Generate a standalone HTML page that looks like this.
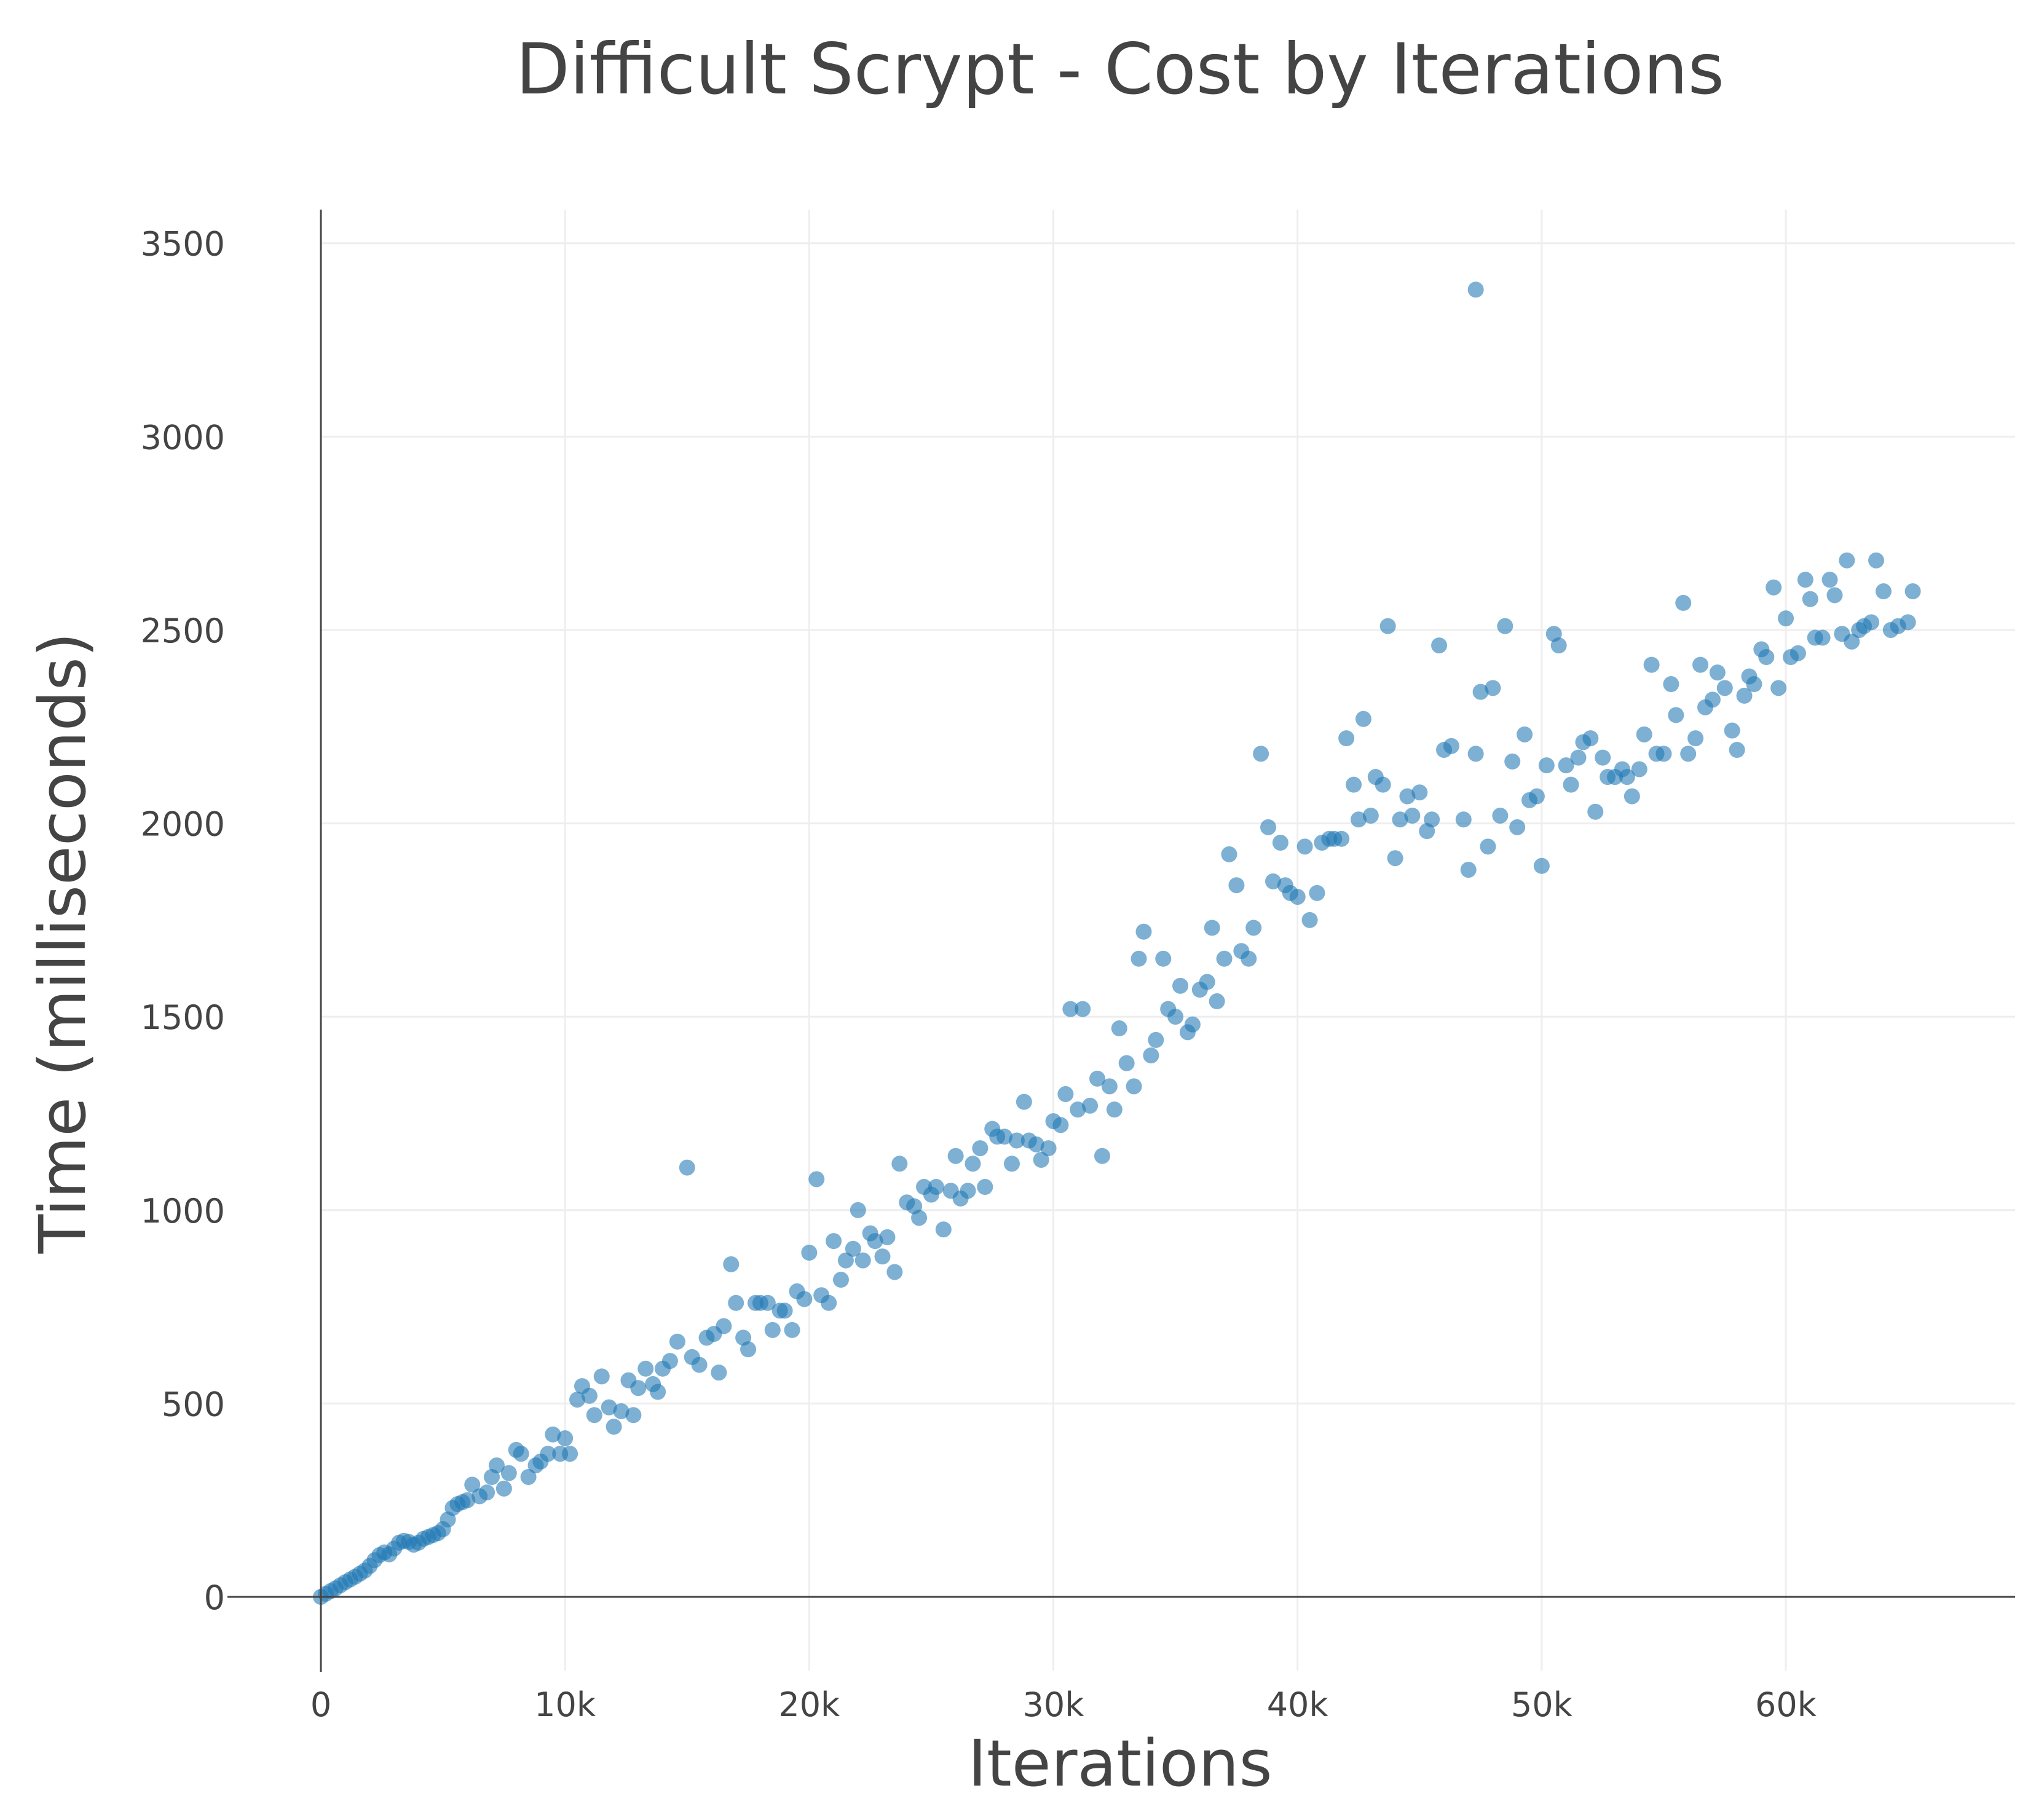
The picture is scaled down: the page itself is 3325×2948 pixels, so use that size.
<!DOCTYPE html>
<html><head><meta charset="utf-8"><style>
html,body{margin:0;padding:0;background:#fff;}
svg{display:block;font-family:"DejaVu Sans","Liberation Sans",sans-serif;}
</style></head><body>
<svg id="chart" width="3325" height="2948" viewBox="0 0 3325 2948" xmlns="http://www.w3.org/2000/svg">
<text x="1822" y="152" font-size="114" fill="#444" text-anchor="middle">Difficult Scrypt - Cost by Iterations</text>
<g id="grid"></g><g id="ticks"></g><g id="points"></g><g id="axes"></g>
<text x="1822" y="2905" font-size="104" fill="#444" text-anchor="middle">Iterations</text>
<text transform="translate(138,1534) rotate(-90)" font-size="104" fill="#444" text-anchor="middle">Time (milliseconds)</text>
</svg>
<script>
const xTicks=[0,10000,20000,30000,40000,50000,60000];
const xTickLabels=["0","10k","20k","30k","40k","50k","60k"];
const yTicks=[0,500,1000,1500,2000,2500,3000,3500];
const iterations=[0,200,400,600,800,1000,1200,1400,1600,1800,2000,2200,2400,2600,2800,3000,3200,3400,3600,3800,4000,4200,4400,4600,4800,5000,5200,5400,5600,5800,6000,6200,6500,6800,7000,7200,7500,7700,8000,8200,8500,8800,9000,9300,9500,9800,10000,10200,10500,10700,11000,11200,11500,11800,12000,12300,12600,12800,13000,13300,13600,13800,14000,14300,14600,15000,15200,15500,15800,16100,16300,16500,16800,17000,17300,17500,17800,18000,18300,18500,18800,19000,19300,19500,19800,20000,20300,20500,20800,21000,21300,21500,21800,22000,22200,22500,22700,23000,23200,23500,23700,24000,24300,24500,24700,25000,25200,25500,25800,26000,26200,26500,26700,27000,27200,27500,27700,28000,28300,28500,28800,29000,29300,29500,29800,30000,30300,30500,30700,31000,31200,31500,31800,32000,32300,32500,32700,33000,33300,33500,33700,34000,34200,34500,34700,35000,35200,35500,35700,36000,36300,36500,36700,37000,37200,37500,37700,38000,38200,38500,38800,39000,39300,39500,39700,40000,40300,40500,40800,41000,41300,41500,41800,42000,42300,42500,42700,43000,43200,43500,43700,44000,44200,44500,44700,45000,45300,45500,45800,46000,46300,47300,46800,47000,47300,47500,47800,48000,48300,48500,48800,49000,49300,49500,49800,50000,50200,50500,50700,51000,51200,51500,51700,52000,52200,52500,52700,53000,53300,53500,53700,54000,54200,54500,54700,55000,55300,55500,55800,56000,56300,56500,56700,57000,57200,57500,57800,58000,58300,58500,58700,59000,59200,59500,59700,60000,60200,60500,60800,61000,61200,61500,61800,62000,62300,62500,62700,63000,63200,63500,63700,64000,64300,64600,65000,65200];
const timesMs=[0,8,15,22,30,38,45,52,60,68,80,95,108,115,110,125,140,145,142,135,140,150,155,160,165,175,200,230,240,245,250,290,260,270,310,340,280,320,380,370,310,340,350,370,420,370,410,370,510,545,520,470,570,490,440,480,560,470,540,590,550,530,590,610,660,1110,620,600,670,680,580,700,860,760,670,640,760,760,760,690,740,740,690,790,770,890,1080,780,760,920,820,870,900,1000,870,940,920,880,930,840,1120,1020,1010,980,1060,1040,1060,950,1050,1140,1030,1050,1120,1160,1060,1210,1190,1190,1120,1180,1280,1180,1170,1130,1160,1230,1220,1300,1520,1260,1520,1270,1340,1140,1320,1260,1470,1380,1320,1650,1720,1400,1440,1650,1520,1500,1580,1460,1480,1570,1590,1730,1540,1650,1920,1840,1670,1650,1730,2180,1990,1850,1950,1840,1820,1810,1940,1750,1820,1950,1960,1960,1960,2220,2100,2010,2270,2020,2120,2100,2510,1910,2010,2070,2020,2080,1980,2010,2460,2190,2200,3380,2010,1880,2180,2340,1940,2350,2020,2510,2160,1990,2230,2060,2070,1890,2150,2490,2460,2150,2100,2170,2210,2220,2030,2170,2120,2120,2140,2120,2070,2140,2230,2410,2180,2180,2360,2280,2570,2180,2220,2410,2300,2320,2390,2350,2240,2190,2330,2380,2360,2450,2430,2610,2350,2530,2430,2440,2630,2580,2480,2480,2630,2590,2490,2680,2470,2500,2510,2520,2680,2600,2500,2510,2520,2600];
const NS="http://www.w3.org/2000/svg";
const L=522,R=3278,T=341,B=2598;
const xMax=69390,yMax=3587;
function sx(v){return L+v/xMax*(R-L);}
function sy(v){return B-v/yMax*(B-T);}
function mk(tag,attrs,parent){const e=document.createElementNS(NS,tag);for(const k in attrs)e.setAttribute(k,attrs[k]);parent.appendChild(e);return e;}
const grid=document.getElementById('grid'),ticks=document.getElementById('ticks'),pts=document.getElementById('points'),axes=document.getElementById('axes');
xTicks.forEach((v,i)=>{
  if(v>0){const g=mk('line',{x1:sx(v),x2:sx(v),y1:T,y2:B+120,stroke:'#eee','stroke-width':3},grid);
  
  }
  const t=mk('text',{x:sx(v),y:2792,'font-size':54,fill:'#444','text-anchor':'middle'},ticks);
  t.textContent=xTickLabels[i];
  
  
});
yTicks.forEach(v=>{
  if(v>0){const g=mk('line',{x1:L,x2:R,y1:sy(v),y2:sy(v),stroke:'#eee','stroke-width':3},grid);
  
  }
  const t=mk('text',{x:366,y:sy(v)+20,'font-size':54,fill:'#444','text-anchor':'end'},ticks);
  t.textContent=String(v);
  
  
});
iterations.forEach((x,i)=>{
  const c=mk('circle',{cx:sx(x),cy:sy(timesMs[i]),r:13,fill:'rgba(31,119,180,0.58)'},pts);
  
  
});
const ya=mk('line',{x1:L,x2:L,y1:T,y2:2720,stroke:'#444','stroke-width':3},axes);


const xa=mk('line',{x1:370,x2:R,y1:B,y2:B,stroke:'#444','stroke-width':3},axes);


</script>
</body></html>
